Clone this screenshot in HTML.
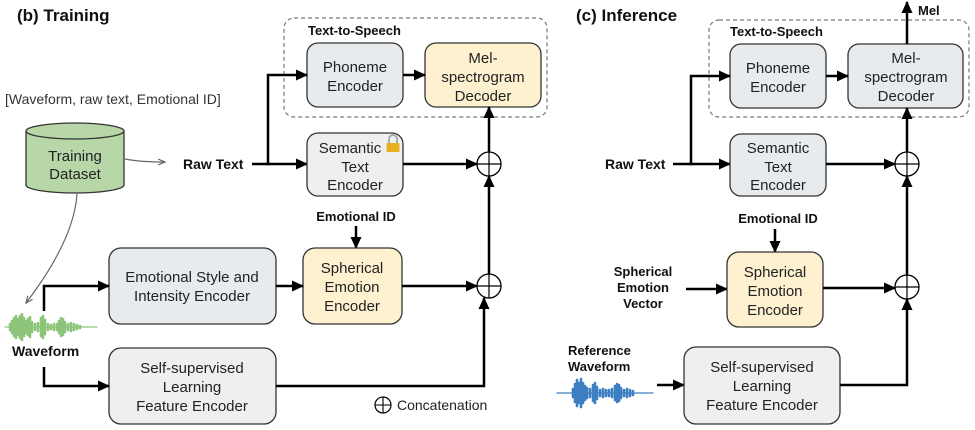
<!DOCTYPE html>
<html><head><meta charset="utf-8"><style>
html,body{margin:0;padding:0;background:#fff;}
svg{display:block;font-family:"Liberation Sans",Arial,sans-serif;}
.b{font-weight:bold;fill:#111;}
.t{fill:#222;font-size:15px;}
</style></head><body>
<svg width="975" height="430" viewBox="0 0 975 430" xmlns="http://www.w3.org/2000/svg">
<defs>
<marker id="a" markerWidth="12" markerHeight="12" refX="11" refY="6" orient="auto" markerUnits="userSpaceOnUse"><path d="M0,0.5 L12,6 L0,11.5 z" fill="#000"/></marker>
<marker id="g" markerWidth="8" markerHeight="8" refX="7" refY="4" orient="auto" markerUnits="userSpaceOnUse"><path d="M0,1 L7,4 L0,7" fill="none" stroke="#666" stroke-width="1.2"/></marker>
</defs>

<!-- ============ LEFT: Training ============ -->
<text x="17" y="21" class="b" font-size="17">(b) Training</text>
<rect x="284" y="18" width="263" height="99" rx="10" fill="none" stroke="#777" stroke-width="1.2" stroke-dasharray="4,3"/>
<text x="308" y="35" class="b" font-size="13">Text-to-Speech</text>

<rect x="307" y="43" width="96" height="64" rx="11" fill="#e8ebee" stroke="#333" stroke-width="1.3"/>
<text class="t" text-anchor="middle"><tspan x="355" y="72">Phoneme</tspan><tspan x="355" y="91">Encoder</tspan></text>
<rect x="425" y="43" width="116" height="64" rx="11" fill="#fdf1d0" stroke="#333" stroke-width="1.3"/>
<text class="t" text-anchor="middle"><tspan x="483" y="63">Mel-</tspan><tspan x="483" y="82">spectrogram</tspan><tspan x="483" y="101">Decoder</tspan></text>
<line x1="403" y1="75" x2="425" y2="75" stroke="#000" stroke-width="2.5" marker-end="url(#a)"/>

<text x="5" y="104" fill="#333" font-size="14">[Waveform, raw text, Emotional ID]</text>

<!-- cylinder -->
<path d="M26,131 L26,185 A49,8 0 0 0 124,185 L124,131" fill="#b7d7a8" stroke="#333" stroke-width="1.3"/>
<ellipse cx="75" cy="131" rx="49" ry="8" fill="#b7d7a8" stroke="#333" stroke-width="1.3"/>
<text class="t" text-anchor="middle"><tspan x="75" y="161">Training</tspan><tspan x="75" y="179">Dataset</tspan></text>
<path d="M125,159 Q140,162 165,162" fill="none" stroke="#666" stroke-width="1.2" marker-end="url(#g)"/>
<path d="M77,194 Q74,240 26,303" fill="none" stroke="#666" stroke-width="1.2" marker-end="url(#g)"/>

<text x="183" y="169" class="b" font-size="14">Raw Text</text>
<polyline points="252,164 268,164 268,75 307,75" fill="none" stroke="#000" stroke-width="2.5" marker-end="url(#a)"/>
<line x1="266" y1="164" x2="307" y2="164" stroke="#000" stroke-width="2.5" marker-end="url(#a)"/>

<rect x="307" y="133" width="96" height="63" rx="11" fill="#efefef" stroke="#333" stroke-width="1.3"/>
<text class="t" text-anchor="middle"><tspan x="350" y="153">Semantic</tspan><tspan x="355" y="172">Text</tspan><tspan x="355" y="190">Encoder</tspan></text>
<!-- lock -->
<path d="M389,143 v-4 a4,4 0 0 1 8,0 v4" fill="none" stroke="#9aa" stroke-width="1.8"/>
<rect x="386.5" y="143" width="13" height="9" rx="1.5" fill="#e8b020"/>

<line x1="403" y1="164" x2="477" y2="164" stroke="#000" stroke-width="2.5" marker-end="url(#a)"/>
<circle cx="489" cy="164" r="12" fill="#fff" stroke="#000" stroke-width="1.3"/>
<path d="M477,164 H501 M489,152 V176" stroke="#000" stroke-width="1.2"/>
<line x1="489" y1="152" x2="489" y2="107" stroke="#000" stroke-width="2.5" marker-end="url(#a)"/>
<line x1="489" y1="274" x2="489" y2="176" stroke="#000" stroke-width="2.5" marker-end="url(#a)"/>

<text x="356" y="221" class="b" font-size="13" text-anchor="middle">Emotional ID</text>
<line x1="356" y1="226" x2="356" y2="248" stroke="#000" stroke-width="2.5" marker-end="url(#a)"/>

<rect x="109" y="248" width="167" height="76" rx="12" fill="#e8ebee" stroke="#333" stroke-width="1.3"/>
<text class="t" text-anchor="middle"><tspan x="192" y="282">Emotional Style and</tspan><tspan x="192" y="301">Intensity Encoder</tspan></text>
<rect x="303" y="248" width="99" height="76" rx="12" fill="#fdf1d0" stroke="#333" stroke-width="1.3"/>
<text class="t" text-anchor="middle"><tspan x="352" y="273">Spherical</tspan><tspan x="352" y="292">Emotion</tspan><tspan x="352" y="311">Encoder</tspan></text>
<line x1="276" y1="286" x2="303" y2="286" stroke="#000" stroke-width="2.5" marker-end="url(#a)"/>
<line x1="402" y1="286" x2="477" y2="286" stroke="#000" stroke-width="2.5" marker-end="url(#a)"/>
<circle cx="489" cy="286" r="12" fill="#fff" stroke="#000" stroke-width="1.3"/>
<path d="M477,286 H501 M489,274 V298" stroke="#000" stroke-width="1.2"/>

<rect x="109" y="348" width="167" height="76" rx="12" fill="#efefef" stroke="#333" stroke-width="1.3"/>
<text class="t" text-anchor="middle"><tspan x="192" y="373">Self-supervised</tspan><tspan x="192" y="392">Learning</tspan><tspan x="192" y="411">Feature Encoder</tspan></text>
<polyline points="276,386 484,386 484,298" fill="none" stroke="#000" stroke-width="2.5" marker-end="url(#a)"/>

<!-- green waveform -->
<g stroke="#8cc57a" stroke-width="2.6" stroke-linecap="round">
<line x1="5" y1="327" x2="97" y2="327" stroke-width="1.2"/>
<path d="M10,324v6 M12,321v12 M14,318v18 M16,316v22 M18,319v16 M20,316v22 M22,314v26 M24,318v18 M26,321v12 M28,319v16 M30,317v20 M32,322v10 M35,324v6 M38,323v8 M41,318v18 M43,316v22 M45,320v14 M48,324v6 M51,325v4 M54,324v6 M57,324v6 M59,321v12 M61,318v18 M63,319v16 M65,322v10 M68,324v6 M71,323v8 M74,324v6 M77,325v4 M80,326v2"/>
</g>
<text x="12" y="356" class="b" font-size="14">Waveform</text>
<polyline points="44,311 44,286 109,286" fill="none" stroke="#000" stroke-width="2.5" marker-end="url(#a)"/>
<polyline points="44,367 44,386 109,386" fill="none" stroke="#000" stroke-width="2.5" marker-end="url(#a)"/>

<circle cx="383" cy="405" r="8" fill="#fff" stroke="#000" stroke-width="1.2"/>
<path d="M375,405 H391 M383,397 V413" stroke="#000" stroke-width="1.1"/>
<text x="397" y="410" fill="#222" font-size="14">Concatenation</text>

<!-- ============ RIGHT: Inference ============ -->
<text x="576" y="21" class="b" font-size="17">(c) Inference</text>
<rect x="709" y="20" width="260" height="97" rx="10" fill="none" stroke="#777" stroke-width="1.2" stroke-dasharray="4,3"/>
<text x="730" y="36" class="b" font-size="13">Text-to-Speech</text>

<rect x="730" y="44" width="96" height="64" rx="11" fill="#e8ebee" stroke="#333" stroke-width="1.3"/>
<text class="t" text-anchor="middle"><tspan x="778" y="73">Phoneme</tspan><tspan x="778" y="92">Encoder</tspan></text>
<rect x="848" y="44" width="115" height="64" rx="11" fill="#e8ebee" stroke="#333" stroke-width="1.3"/>
<text class="t" text-anchor="middle"><tspan x="906" y="63">Mel-</tspan><tspan x="906" y="82">spectrogram</tspan><tspan x="906" y="101">Decoder</tspan></text>
<line x1="826" y1="76" x2="848" y2="76" stroke="#000" stroke-width="2.5" marker-end="url(#a)"/>
<line x1="907" y1="44" x2="907" y2="2" stroke="#000" stroke-width="2.5" marker-end="url(#a)"/>
<text x="918" y="15" class="b" font-size="13">Mel</text>

<text x="605" y="169" class="b" font-size="14">Raw Text</text>
<polyline points="673,164 691,164 691,76 730,76" fill="none" stroke="#000" stroke-width="2.5" marker-end="url(#a)"/>
<line x1="689" y1="164" x2="730" y2="164" stroke="#000" stroke-width="2.5" marker-end="url(#a)"/>
<rect x="730" y="134" width="96" height="62" rx="11" fill="#e8ebee" stroke="#333" stroke-width="1.3"/>
<text class="t" text-anchor="middle"><tspan x="778" y="153">Semantic</tspan><tspan x="778" y="172">Text</tspan><tspan x="778" y="190">Encoder</tspan></text>
<line x1="826" y1="164" x2="895" y2="164" stroke="#000" stroke-width="2.5" marker-end="url(#a)"/>
<circle cx="907" cy="164" r="12" fill="#fff" stroke="#000" stroke-width="1.3"/>
<path d="M895,164 H919 M907,152 V176" stroke="#000" stroke-width="1.2"/>
<line x1="907" y1="152" x2="907" y2="108" stroke="#000" stroke-width="2.5" marker-end="url(#a)"/>
<line x1="907" y1="275" x2="907" y2="176" stroke="#000" stroke-width="2.5" marker-end="url(#a)"/>

<text x="778" y="223" class="b" font-size="13" text-anchor="middle">Emotional ID</text>
<line x1="775" y1="229" x2="775" y2="252" stroke="#000" stroke-width="2.5" marker-end="url(#a)"/>
<text class="b" font-size="13" text-anchor="middle"><tspan x="643" y="276">Spherical</tspan><tspan x="643" y="292">Emotion</tspan><tspan x="643" y="308">Vector</tspan></text>
<line x1="686" y1="289" x2="727" y2="289" stroke="#000" stroke-width="2.5" marker-end="url(#a)"/>
<rect x="727" y="252" width="96" height="75" rx="12" fill="#fdf1d0" stroke="#333" stroke-width="1.3"/>
<text class="t" text-anchor="middle"><tspan x="775" y="277">Spherical</tspan><tspan x="775" y="296">Emotion</tspan><tspan x="775" y="315">Encoder</tspan></text>
<line x1="823" y1="288" x2="895" y2="288" stroke="#000" stroke-width="2.5" marker-end="url(#a)"/>
<circle cx="907" cy="287" r="12" fill="#fff" stroke="#000" stroke-width="1.3"/>
<path d="M895,287 H919 M907,275 V299" stroke="#000" stroke-width="1.2"/>

<text class="b" font-size="13"><tspan x="568" y="355">Reference</tspan><tspan x="568" y="371">Waveform</tspan></text>
<g stroke="#3d7fc0" stroke-width="2.6" stroke-linecap="round">
<line x1="557" y1="393" x2="653" y2="393" stroke-width="1.2"/>
<path d="M573,389v8 M575,384v18 M577,380v26 M579,383v20 M581,379v28 M583,383v20 M585,386v14 M587,388v10 M590,389v8 M593,385v16 M595,383v20 M597,387v12 M600,390v6 M603,389v8 M606,390v6 M609,390v6 M612,389v8 M615,386v14 M617,384v18 M619,385v16 M621,388v10 M624,390v6 M627,389v8 M630,390v6 M633,391v4"/>
</g>
<line x1="657" y1="385" x2="684" y2="385" stroke="#000" stroke-width="2.5" marker-end="url(#a)"/>
<rect x="684" y="347" width="156" height="77" rx="12" fill="#efefef" stroke="#333" stroke-width="1.3"/>
<text class="t" text-anchor="middle"><tspan x="762" y="372">Self-supervised</tspan><tspan x="762" y="391">Learning</tspan><tspan x="762" y="410">Feature Encoder</tspan></text>
<polyline points="840,385 907,385 907,299" fill="none" stroke="#000" stroke-width="2.5" marker-end="url(#a)"/>
</svg>
</body></html>
